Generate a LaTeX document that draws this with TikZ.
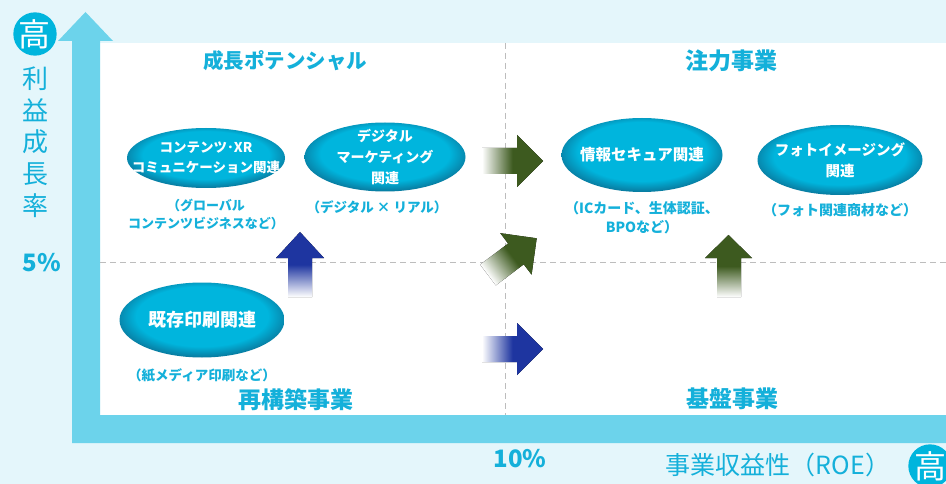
\documentclass[tikz,border=0pt]{standalone}
\usepackage{fontspec}
\setmainfont{Noto Sans CJK JP}
\usetikzlibrary{shapes.geometric}
\definecolor{bgBlue}{HTML}{E4F6FB}
\definecolor{axisBlue}{HTML}{6CD3EB}
\definecolor{labCyan}{HTML}{14B0DA}
\definecolor{ellFill}{HTML}{00B5DD}
\definecolor{ellDark}{HTML}{0A6F93}
\definecolor{arrGreen}{HTML}{3D5A1F}
\definecolor{arrBlue}{HTML}{1E35A0}
\definecolor{gridGray}{HTML}{BDBDBD}
\pgfdeclareradialshading{ellrim}{\pgfpoint{0bp}{4bp}}{color(0bp)=(ellFill); color(20bp)=(ellFill); color(28bp)=(ellDark); color(50bp)=(ellDark)}
\tikzset{
  biz/.style={ellipse, shade, shading=ellrim, inner sep=0pt},
  biztext/.style={text=white, align=center, font=\bfseries\fontsize{15}{20}\selectfont},
  note/.style={text=labCyan, align=center, font=\bfseries\fontsize{13.5}{19}\selectfont},
  quad/.style={text=labCyan, font=\bfseries\fontsize{23}{26}\selectfont},
  hi/.style={circle, fill=ellFill, text=white, minimum size=43pt, inner sep=0pt, font=\fontsize{32}{32}\selectfont},
  gridline/.style={gridGray, dash pattern=on 6pt off 4pt, line width=1pt},
}
\begin{document}
\begin{tikzpicture}[x=1pt,y=-1pt]
	  \useasboundingbox (0,0) rectangle (946,484);
	  \fill[bgBlue] (0,0) rectangle (946,484);
	  \fill[white] (100,43) rectangle (946,415);
	  % axes
	  \fill[axisBlue] (58,41) -- (85.5,12) -- (113,41) -- (100,41) -- (100,415) -- (946,415) -- (946,443) -- (72,443) -- (72,41) -- cycle;
	  \draw[gridline] (505,43) -- (505,415);
	  \draw[gridline] (100,262) -- (946,262);
	  \node[hi] (hiy) at (35,34) {高};
	  \node[hi] (hix) at (930,466) {高};
	  \node[text=labCyan, align=center, font=\fontsize{26}{31.7}\selectfont] (ylab) at (35,142) {利\\益\\成\\長\\率};
	  \node[text=labCyan, font=\fontsize{25}{28}\selectfont] (xlab) at (778,465) {事業収益性（ROE）};
	  \node[text=labCyan, font=\bfseries\fontsize{24}{26}\selectfont] (ymid) at (42,263) {5\%};
	  \node[text=labCyan, font=\bfseries\fontsize{24}{26}\selectfont] (xmid) at (520,459) {10\%};
	  % quadrants
	  \node[quad, font=\bfseries\fontsize{20.5}{24}\selectfont] (growth) at (285,61) {成長ポテンシャル};
	  \node[quad] (focus) at (731,61) {注力事業};
	  \node[quad] (rebuild) at (296,400) {再構築事業};
	  \node[quad] (base) at (732,399) {基盤事業};
	  % businesses
	  \node[biz, minimum width=158pt, minimum height=60pt] (cxr) at (206,158) {};
	  \node[biztext, font=\bfseries\fontsize{13.5}{20}\selectfont] at (cxr) {コンテンツ･XR\\コミュニケーション関連};
	  \node[note, font=\bfseries\fontsize{13}{18}\selectfont] (cxrnote) at (206,214) {（グローバル\\コンテンツビジネスなど）};
	  \node[biz, minimum width=161pt, minimum height=69pt] (dm) at (385,157) {};
	  \node[biztext, font=\bfseries\fontsize{14}{21}\selectfont] at (dm) {デジタル\\マーケティング\\関連};
	  \node[note] (dmnote) at (377,207) {（デジタル × リアル）};
	  \node[biz, minimum width=161pt, minimum height=74pt] (sec) at (642,155) {};
	  \node[biztext, font=\bfseries\fontsize{15.5}{20}\selectfont] at (sec) {情報セキュア関連};
	  \node[note, font=\bfseries\fontsize{14}{19}\selectfont] (secnote) at (642,218) {（ICカード、生体認証、\\BPOなど）};
	  \node[biz, minimum width=165pt, minimum height=70pt] (photo) at (840,160) {};
	  \node[biztext, font=\bfseries\fontsize{14.5}{21}\selectfont] at (photo) {フォトイメージング\\関連};
	  \node[note, font=\bfseries\fontsize{14}{19}\selectfont] (photonote) at (840,210) {（フォト関連商材など）};
	  \node[biz, minimum width=165pt, minimum height=75pt] (print) at (202,320) {};
	  \node[biztext, font=\bfseries\fontsize{18}{20}\selectfont] at (print) {既存印刷関連};
	  \node[note] (printnote) at (202,375) {（紙メディア印刷など）};
	  % moves
	  \fill[left color=white, right color=arrGreen, middle color=arrGreen] (482,148) -- (517,148) -- (517,135) -- (543,161) -- (517,187) -- (517,174) -- (482,174) -- cycle;
	  \fill[left color=white, right color=arrBlue, middle color=arrBlue] (482,336) -- (517,336) -- (517,323) -- (543,349) -- (517,375) -- (517,362) -- (482,362) -- cycle;
	  \fill[bottom color=white, top color=arrBlue, middle color=arrBlue] (288,297) -- (288,258) -- (276,258) -- (300,232) -- (324,258) -- (312,258) -- (312,297) -- cycle;
	  \fill[bottom color=white, top color=arrGreen, middle color=arrGreen] (717,297) -- (717,258) -- (705,258) -- (728.5,235) -- (752,258) -- (741,258) -- (741,297) -- cycle;
	  \begin{scope}[transform canvas={shift={(488pt,-275pt)}, rotate=37}]
	    \fill[left color=white, right color=arrGreen, middle color=arrGreen] (0,-13) -- (35,-13) -- (35,-26) -- (61,0) -- (35,26) -- (35,13) -- (0,13) -- cycle;
	  \end{scope}
	 \end{tikzpicture}
\end{document}
